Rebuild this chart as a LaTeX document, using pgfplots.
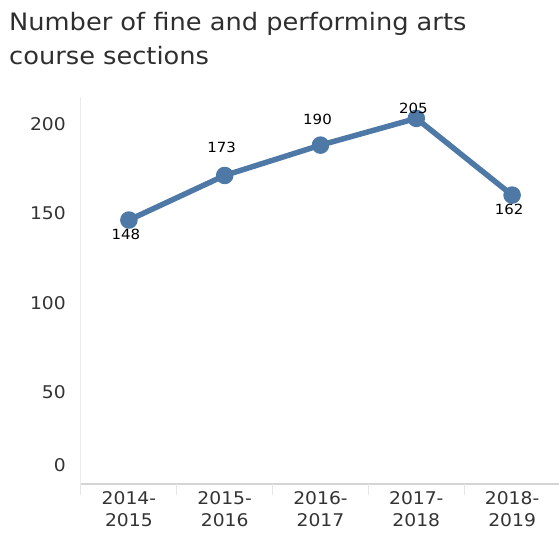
\documentclass[border=0pt]{standalone}
\usepackage{pgfplots}
\pgfplotsset{compat=1.18}
\usepackage{fontspec}
\setmainfont[FakeStretch=1.07]{DejaVu Sans}
\definecolor{lineblue}{HTML}{4E79A7}
\definecolor{titlegray}{HTML}{2E2E2E}
\definecolor{ticktext}{HTML}{333333}
\definecolor{ylinegray}{HTML}{EBEBEB}
\definecolor{xlinegray}{HTML}{D4D4D4}
\definecolor{sepgray}{HTML}{E6E6E6}

\pgfplotstableread{
x y dy
0 148 -14
1 173 28
2 190 26
3 205 10
4 162 -14
}\sections

\begin{document}
\begin{tikzpicture}
\begin{axis}[
  at={(0pt,0pt)}, anchor=south west,
  width=479pt, height=387pt, scale only axis,
  xmin=-0.5, xmax=4.5, ymin=0, ymax=217,
  /pgf/number format/assume math mode=true,
  axis x line*=bottom, axis y line*=left,
  x axis line style={-, draw=xlinegray, line width=1.6pt},
  y axis line style={-, draw=ylinegray, line width=1pt},
  xtick={0,1,2,3,4},
  xticklabels={2014-\\2015, 2015-\\2016, 2016-\\2017, 2017-\\2018, 2018-\\2019},
  ytick={50,100,150,200},
  major tick length=0pt,
  tick style={draw=none},
  xticklabel style={anchor=north, inner sep=0pt, yshift=-7pt, align=center,
    font={\fontsize{17.5}{22}\selectfont}, text=ticktext},
  yticklabel style={anchor=east, inner sep=0pt, xshift=-15pt, yshift=3pt,
    font={\fontsize{17.5}{20}\selectfont}, text=ticktext},
  extra y ticks={0},
  extra y tick style={yticklabel style={yshift=16pt}},
  extra x ticks={-0.5,0.5,1.5,2.5,3.5},
  extra x tick labels={},
  extra x tick style={tick align=outside, major tick length=11pt,
    tick style={draw=sepgray, line width=1pt}},
  clip=false,
]
\addplot[color=lineblue, line width=5.5pt, line join=round,
  mark=*, mark size=6pt, mark options={fill=lineblue, draw=none},
  nodes near coords, point meta=explicit,
  visualization depends on={\thisrow{dy}\as\dy},
  every node near coord/.append style={anchor=center, yshift=\dy, xshift=-3pt,
    inner sep=0pt, font={\fontsize{14}{16}\selectfont}, text=black}]
  table[x=x, y=y, meta=y] {\sections};
\end{axis}
\node[anchor=base west, inner sep=0pt, text=titlegray, font={\fontsize{24}{28}\selectfont}]
  at (-72pt,453pt) {Number of fine and performing arts};
\node[anchor=base west, inner sep=0pt, text=titlegray, font={\fontsize{24}{28}\selectfont}]
  at (-72pt,419pt) {course sections};
\pgfresetboundingbox
\path[use as bounding box] (-81pt,-56pt) rectangle (478pt,484pt);
\end{tikzpicture}
\end{document}
